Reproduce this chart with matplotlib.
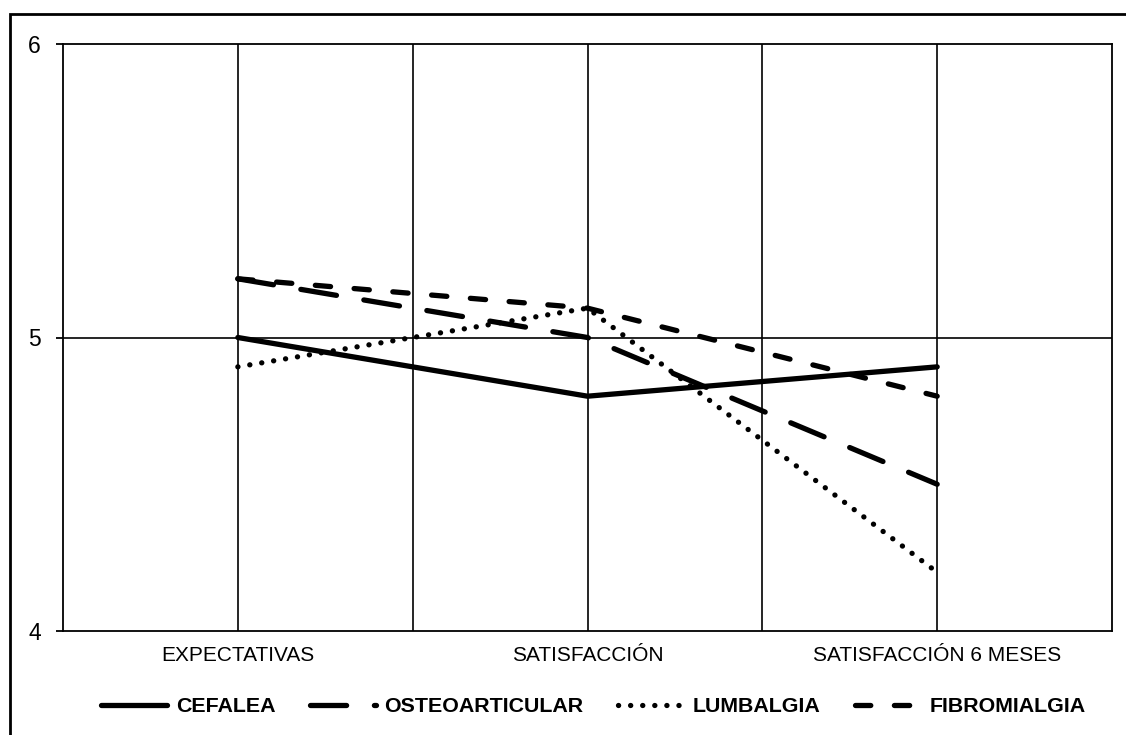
import matplotlib

matplotlib.use("Agg")
import matplotlib.pyplot as plt
from matplotlib.patches import Rectangle

categories = ["EXPECTATIVAS", "SATISFACCIÓN", "SATISFACCIÓN 6 MESES"]
cefalea = [5.0, 4.8, 4.9]
osteoarticular = [5.2, 5.0, 4.5]
lumbalgia = [4.9, 5.1, 4.2]
fibromialgia = [5.2, 5.1, 4.8]
series_names = ["CEFALEA", "OSTEOARTICULAR", "LUMBALGIA", "FIBROMIALGIA"]
y_ticks = [4, 5, 6]

plt.rcParams["font.family"] = ["Liberation Sans", "DejaVu Sans"]
plt.rcParams["lines.scale_dashes"] = False

fig = plt.figure(figsize=(11.26, 7.35), dpi=100)
ax = fig.add_axes([63 / 1126, 1 - 631 / 735, (1112 - 63) / 1126, (631 - 44) / 735])

x = list(range(len(categories)))
lw = 3.8
styles = [
    dict(linestyle="-"),
    dict(dashes=(26, 20)),
    dict(dashes=(0.1, 8.6)),
    dict(dashes=(11, 17)),
]
for vals, name, st in zip([cefalea, osteoarticular, lumbalgia, fibromialgia], series_names, styles):
    ax.plot(x, vals, color="black", lw=lw, solid_capstyle="round",
            dash_capstyle="round", label=name, zorder=3, **st)

ax.set_xlim(-0.5, len(categories) - 0.5)
ax.set_ylim(4, 6)
ax.set_yticks(y_ticks)
ax.set_xticks(x)
ax.set_xticklabels(categories, fontsize=15)
ax.tick_params(axis="x", length=0, pad=11)
ax.tick_params(axis="y", length=5, width=1.3, pad=11, labelsize=16.5, direction="out")

# grid: horizontal at 5, vertical at every half category
ax.axhline(5, color="black", lw=1.2, zorder=1)
for gx in [0, 0.5, 1, 1.5, 2]:
    ax.axvline(gx, color="black", lw=1.2, zorder=1)
for sp in ax.spines.values():
    sp.set_linewidth(1.3)

fig.legend(loc="center", bbox_to_anchor=(0.527, 1 - 707 / 735), ncol=4, frameon=False,
           handlelength=3.1, handletextpad=0.4, columnspacing=1.6,
           prop=dict(weight="bold", size=15.4))

fig.add_artist(Rectangle((9.5 / 1126, -0.05), 1.1, 1.05 - 14 / 735,
                         transform=fig.transFigure, fill=False, lw=2, ec="black",
                         clip_on=False))

fig.savefig("out.png", dpi=100)
